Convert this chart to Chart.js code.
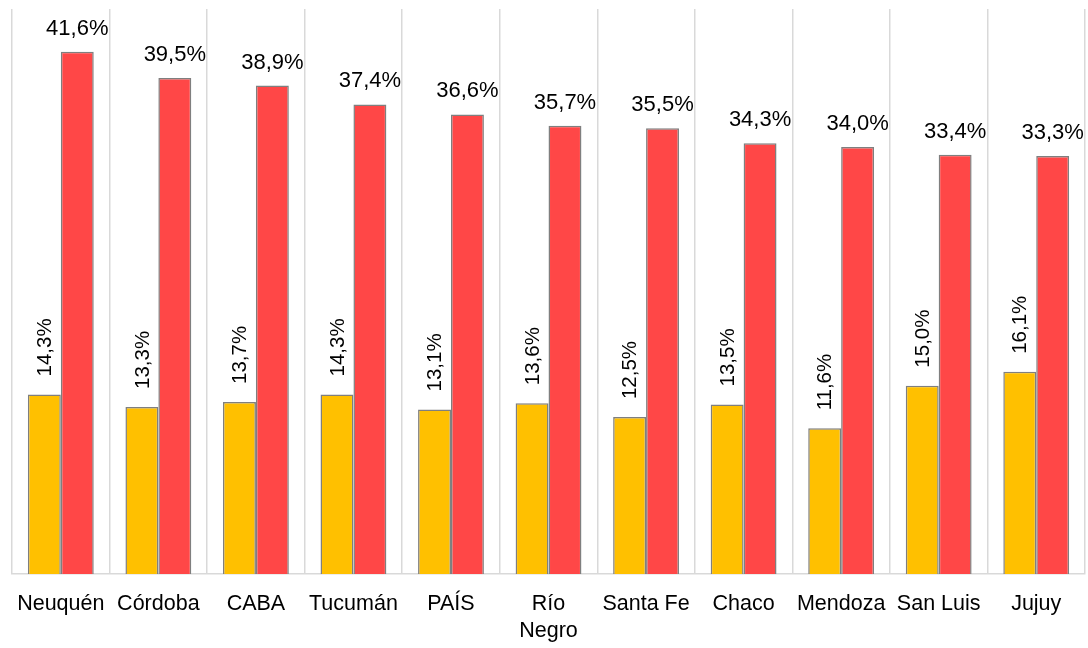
<!DOCTYPE html>
<html><head><meta charset="utf-8">
<script src="https://cdn.jsdelivr.net/npm/chart.js@4"></script>
<style>html,body{margin:0;padding:0;background:#fff}#w{width:1088px;height:648px}</style>
</head><body><div id="w"><canvas id="c"></canvas></div>
<script>
const categories = ['Neuquén','Córdoba','CABA','Tucumán','PAÍS',['Río','Negro'],'Santa Fe','Chaco','Mendoza','San Luis','Jujuy'];
const seriesA = [14.3,13.3,13.7,14.3,13.1,13.6,12.5,13.5,11.6,15.0,16.1];
const seriesB = [41.6,39.5,38.9,37.4,36.6,35.7,35.5,34.3,34.0,33.4,33.3];
const FONT = '"Liberation Sans", Arial, sans-serif';
const fmt = v => v.toFixed(1).replace('.', ',') + '%';

const labelPlugin = {
  id: 'vlabels',
  afterDatasetsDraw(chart) {
    const ctx = chart.ctx;
    ctx.save();
    ctx.fillStyle = '#000';
    ctx.font = '20.5px ' + FONT;
    chart.getDatasetMeta(0).data.forEach((bar, i) => {
      ctx.save();
      ctx.translate(bar.x + 1, bar.y - 18);
      ctx.rotate(-Math.PI / 2);
      ctx.textAlign = 'left';
      ctx.textBaseline = 'middle';
      ctx.fillText(fmt(seriesA[i]), 0, 0);
      ctx.restore();
    });
    ctx.font = '22px ' + FONT;
    chart.getDatasetMeta(1).data.forEach((bar, i) => {
      ctx.textAlign = 'center';
      ctx.textBaseline = 'alphabetic';
      ctx.fillText(fmt(seriesB[i]), bar.x, bar.y - 17);
    });
    ctx.restore();
  }
};

new Chart(document.getElementById('c'), {
  type: 'bar',
  data: {
    labels: categories,
    datasets: [
      {data: seriesA, backgroundColor: '#FFC000', borderColor: '#7F7F7F', borderWidth: 1.5, borderSkipped: 'bottom', barPercentage: 1, categoryPercentage: 0.675},
      {data: seriesB, backgroundColor: '#FF4747', borderColor: '#7F7F7F', borderWidth: 1.5, borderSkipped: 'bottom', barPercentage: 1, categoryPercentage: 0.675}
    ]
  },
  options: {
    responsive: true, maintainAspectRatio: false, animation: false,
    layout: {padding: {left: 4, right: 3, top: 9, bottom: 2}},
    plugins: {legend: {display: false}, tooltip: {enabled: false}},
    scales: {
      x: {
        afterFit: s => { s.height = 72; },
        grid: {color: '#D9D9D9', lineWidth: 1.5, drawTicks: false, offset: true},
        border: {color: '#D9D9D9', width: 1.5},
        ticks: {color: '#000', padding: 17, maxRotation: 0, autoSkip: false, font: {family: FONT, size: 21.5, lineHeight: 1.25}}
      },
      y: {display: false, min: 0, max: 45}
    }
  },
  plugins: [labelPlugin]
});
</script></body></html>
